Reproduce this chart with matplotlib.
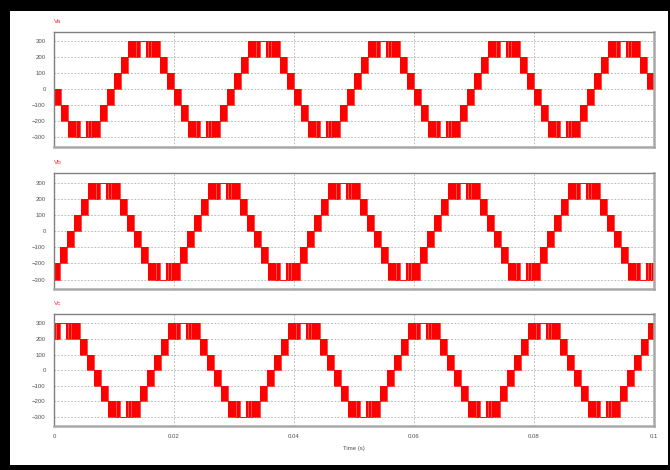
import matplotlib.pyplot as plt
import numpy as np
from matplotlib.patches import Rectangle

plt.rcParams['font.family'] = ['Liberation Sans', 'DejaVu Sans']

names = ["Va", "Vb", "Vc"]
period_ms = 20.0
phase_delay_ms = [0.0, -6.67, 6.67]  # Vb leads Va, Vc lags Va

# one period of Va: band edges (ms) and the lower level of each band (V)
band_edges_ms = [0.0, 1.1, 2.3, 7.7, 8.9, 10.0, 11.1, 12.3, 17.7, 18.9, 20.0]
band_low = [-100, -200, -300, -200, -100, 0, 100, 200, 100, 0]
step_v = 100
# white gaps inside the +/-300 bands, ms from the start of the band
peak_gaps_ms = [(1.4, 1.5), (1.56, 1.74), (2.05, 3.1), (3.4, 3.48), (3.88, 4.08)]

yticks = [-300, -200, -100, 0, 100, 200, 300]
xticks = [0, 0.02, 0.04, 0.06, 0.08, 0.1]
xticklabels = ["0", "0.02", "0.04", "0.06", "0.08", "0.1"]
t_end_ms = 100.0


def build(delay):
    segs = []  # start, end, lo, hi
    for k in range(-1, 7):
        for i, lo in enumerate(band_low):
            s = band_edges_ms[i] + k * period_ms + delay
            e = band_edges_ms[i + 1] + k * period_ms + delay
            hi = lo + step_v
            if lo == -300 or hi == 300:
                top = 300 if hi == 300 else -300
                pos = s
                for g0, g1 in peak_gaps_ms:
                    segs.append((pos, s + g0, lo, hi))
                    segs.append((s + g0, s + g1, top, top))
                    pos = s + g1
                segs.append((pos, e, lo, hi))
            else:
                segs.append((s, e, lo, hi))
    segs = [(max(a, 0), min(b, t_end_ms), lo, hi) for a, b, lo, hi in segs
            if b > 0 and a < t_end_ms]
    segs.sort()
    t = [a for a, b, lo, hi in segs] + [segs[-1][1]]
    lo = [s[2] for s in segs] + [segs[-1][2]]
    hi = [s[3] for s in segs] + [segs[-1][3]]
    return np.array(t) / 1000.0, np.array(lo), np.array(hi)


fig = plt.figure(figsize=(6.7, 4.7), dpi=100)
fig.patch.set_facecolor('black')
fig.patches.append(Rectangle((10 / 670, 5 / 470), 658 / 670, 454 / 470,
                             transform=fig.transFigure, facecolor='white',
                             edgecolor='none', zorder=-1))

# axes boxes in pixels: top, bottom
boxes = [(31.7, 146.7), (173, 289), (314, 426)]
for n, (name, delay) in enumerate(zip(names, phase_delay_ms)):
    top, bot = boxes[n]
    ax = fig.add_axes([54 / 670, 1 - bot / 470, 600 / 670, (bot - top) / 470])
    t, lo, hi = build(delay)
    ax.fill_between(t, lo, hi, step='post', color='#ff0000', lw=0)
    ax.step(t, lo, where='post', color='#ff0000', lw=0.5)
    ax.step(t, hi, where='post', color='#ff0000', lw=0.5)

    ax.set_xlim(0, 0.1)
    ax.set_ylim(-358, 360)
    ax.set_yticks(yticks)
    ax.set_xticks(xticks)
    ax.grid(True, color='#b0b0b0', lw=0.6, linestyle=(0, (2, 2)))
    ax.set_axisbelow(True)
    ax.tick_params(length=0, labelsize=4.3, labelcolor='#505050', pad=6)
    for side in ['top', 'left']:
        ax.spines[side].set_color('#808080')
        ax.spines[side].set_linewidth(1.0)
    for side in ['right', 'bottom']:
        ax.spines[side].set_color('#a8a8a8')
        ax.spines[side].set_linewidth(1.8)
    ax.text(0, 1.07, name, transform=ax.transAxes, color='#ff3030',
            fontsize=4.6, ha='left', va='bottom')
    if n < 2:
        ax.set_xticklabels([])
    else:
        ax.set_xticklabels(xticklabels)
        ax.set_xlabel("Time (s)", fontsize=4.3, color='#505050', labelpad=5)

fig.savefig("out.png", dpi=100, facecolor=fig.get_facecolor())
